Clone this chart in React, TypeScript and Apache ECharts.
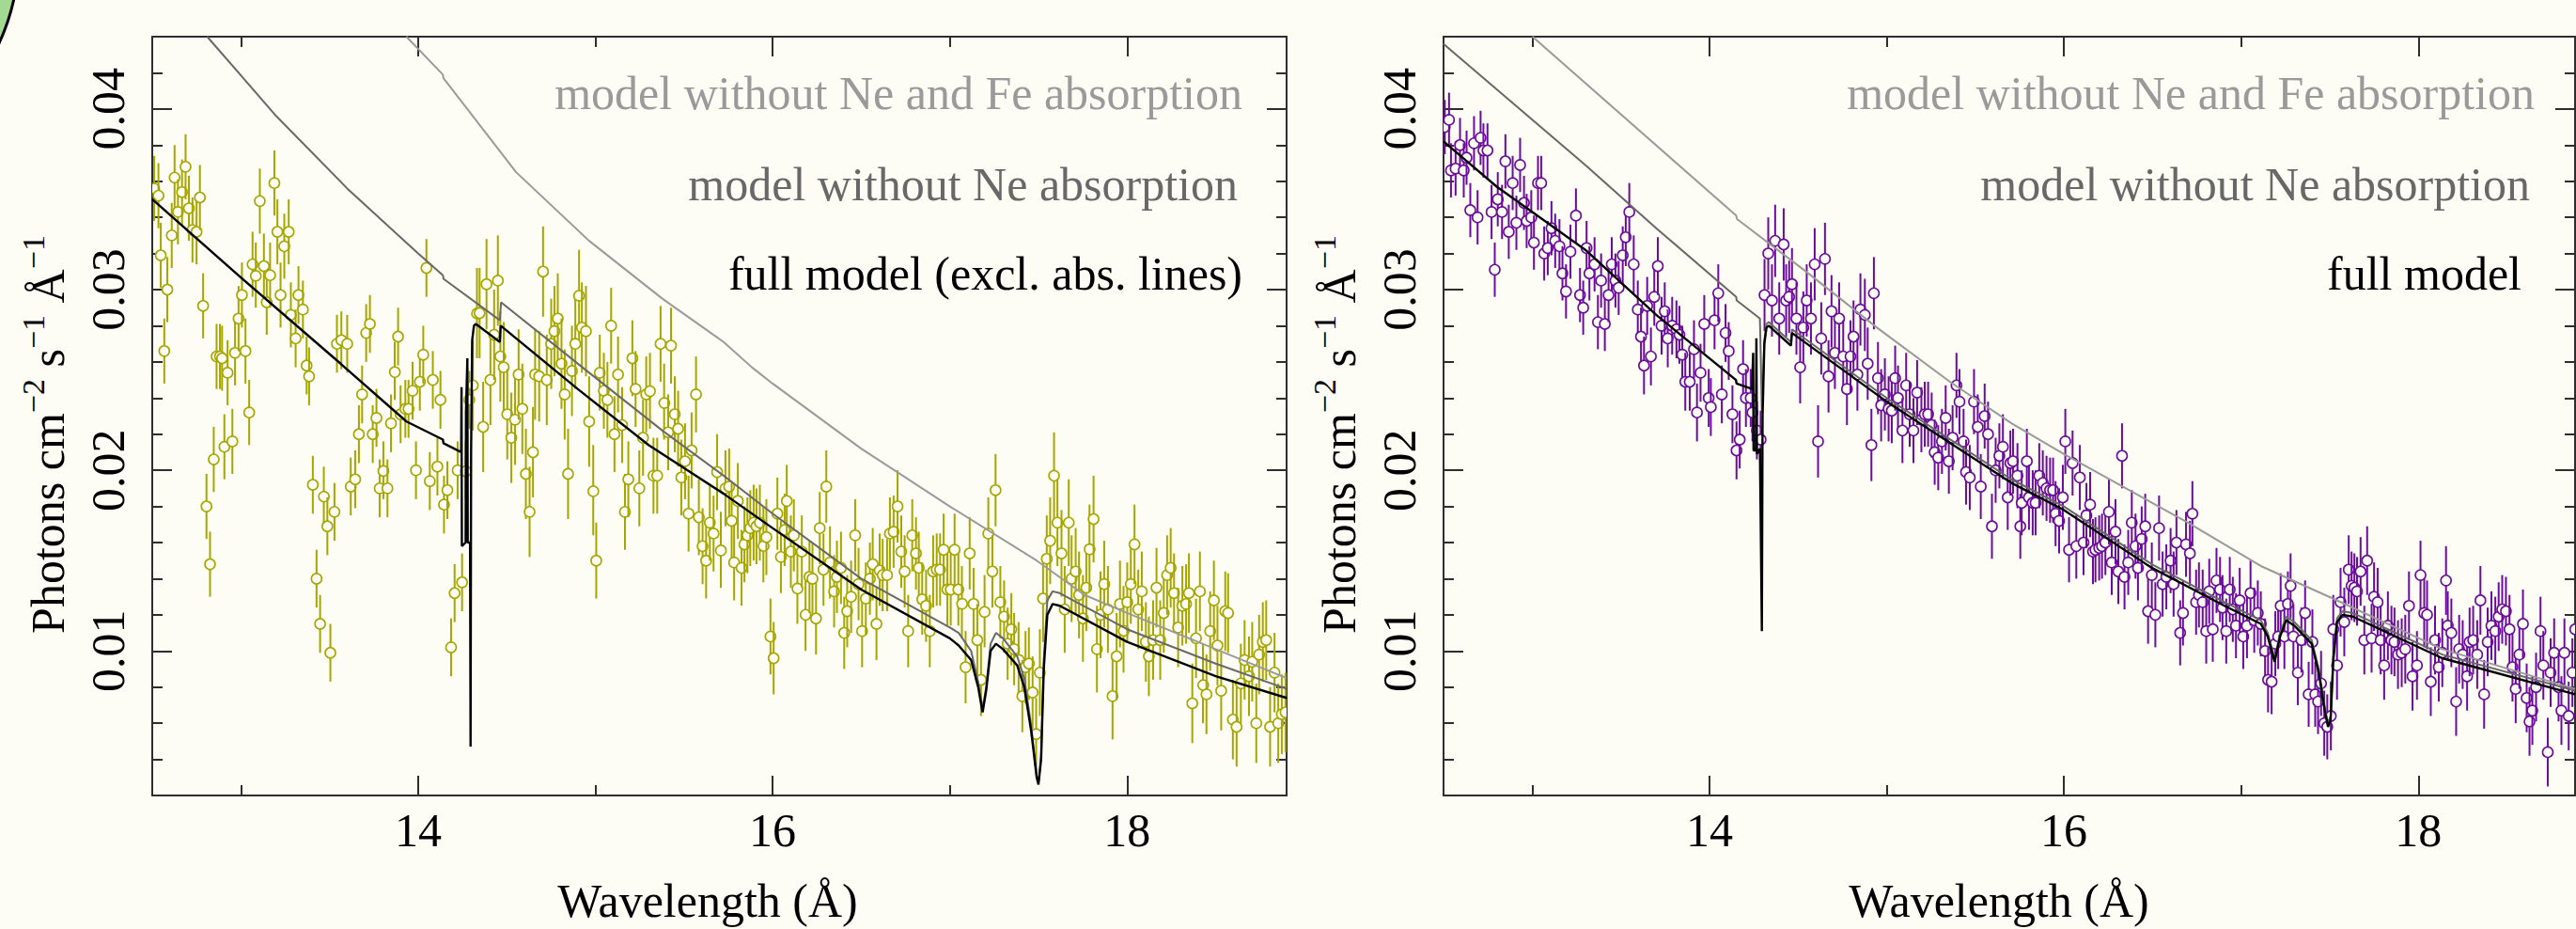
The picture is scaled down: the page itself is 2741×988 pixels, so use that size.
import React, { useEffect, useRef } from "react";
import * as echarts from "echarts";

// ---------------- data ----------------
const xMajorTicks = [14, 16, 18];
const xMinorTicks = [13, 15, 17];
const yMajorTicks = [0.01, 0.02, 0.03, 0.04];
const yMinorTicks = [0.004, 0.006, 0.008, 0.012, 0.014, 0.016, 0.018, 0.022, 0.024, 0.026, 0.028, 0.032, 0.034, 0.036, 0.038, 0.042];

const legendLeft = ["model without Ne and Fe absorption", "model without Ne absorption", "full model (excl. abs. lines)"];
const legendRight = ["model without Ne and Fe absorption", "model without Ne absorption", "full model"];

// left panel spectrum (wavelength, flux)
const leftSpectrum: [number, number][] = [
  [12.511,0.0356],[12.535,0.0352],[12.548,0.0319],[12.568,0.0266],[12.585,0.0300],[12.610,0.0330],[12.626,0.0362],[12.645,0.0343],
  [12.668,0.0354],[12.688,0.0368],[12.707,0.0345],[12.727,0.0333],[12.750,0.0332],[12.769,0.0351],[12.787,0.0291],[12.806,0.0180],
  [12.826,0.0148],[12.847,0.0206],[12.863,0.0263],[12.882,0.0263],[12.894,0.0262],[12.907,0.0213],[12.925,0.0254],[12.952,0.0216],
  [12.967,0.0265],[12.987,0.0284],[13.006,0.0297],[13.026,0.0266],[13.047,0.0232],[13.066,0.0314],[13.084,0.0308],[13.107,0.0349],
  [13.130,0.0313],[13.146,0.0293],[13.165,0.0308],[13.189,0.0359],[13.206,0.0332],[13.224,0.0297],[13.245,0.0324],[13.270,0.0332],
  [13.282,0.0286],[13.309,0.0273],[13.325,0.0297],[13.350,0.0289],[13.371,0.0258],[13.385,0.0252],[13.406,0.0192],[13.427,0.0140],
  [13.447,0.0115],[13.468,0.0186],[13.488,0.0169],[13.505,0.0099],[13.528,0.0177],[13.542,0.0270],[13.567,0.0272],[13.600,0.0270],
  [13.620,0.0191],[13.645,0.0195],[13.666,0.0220],[13.684,0.0242],[13.707,0.0276],[13.728,0.0281],[13.744,0.0220],[13.765,0.0229],
  [13.783,0.0190],[13.804,0.0200],[13.827,0.0190],[13.847,0.0226],[13.868,0.0255],[13.887,0.0274],[13.901,0.0231],[13.928,0.0234],
  [13.946,0.0234],[13.969,0.0244],[13.988,0.0200],[14.010,0.0249],[14.029,0.0264],[14.047,0.0312],[14.066,0.0194],[14.083,0.0250],
  [14.109,0.0202],[14.126,0.0239],[14.146,0.0181],[14.165,0.0189],[14.186,0.0102],[14.206,0.0132],[14.223,0.0200],[14.248,0.0138],
  [14.268,0.0200],[14.289,0.0239],[14.309,0.0247],[14.332,0.0287],[14.347,0.0287],[14.367,0.0224],[14.386,0.0303],[14.408,0.0250],
  [14.429,0.0275],[14.450,0.0305],[14.464,0.0263],[14.483,0.0257],[14.503,0.0231],[14.526,0.0218],[14.547,0.0228],[14.567,0.0253],
  [14.588,0.0234],[14.608,0.0198],[14.629,0.0177],[14.648,0.0210],[14.660,0.0253],[14.683,0.0252],[14.705,0.0310],[14.726,0.0250],
  [14.751,0.0270],[14.769,0.0277],[14.788,0.0284],[14.809,0.0259],[14.827,0.0242],[14.846,0.0198],[14.868,0.0255],[14.887,0.0270],
  [14.908,0.0297],[14.924,0.0279],[14.947,0.0277],[14.965,0.0227],[14.988,0.0189],[15.005,0.0150],[15.025,0.0254],[15.048,0.0244],
  [15.068,0.0239],[15.089,0.0280],[15.108,0.0220],[15.128,0.0253],[15.151,0.0225],[15.167,0.0177],[15.186,0.0195],[15.209,0.0262],
  [15.227,0.0245],[15.248,0.0190],[15.269,0.0218],[15.287,0.0242],[15.308,0.0244],[15.328,0.0197],[15.349,0.0197],[15.368,0.0270],
  [15.388,0.0238],[15.411,0.0221],[15.427,0.0269],[15.448,0.0231],[15.467,0.0223],[15.485,0.0196],[15.506,0.0205],[15.526,0.0176],
  [15.543,0.0211],[15.568,0.0242],[15.584,0.0174],[15.605,0.0158],[15.625,0.0150],[15.646,0.0171],[15.667,0.0165],[15.687,0.0199],
  [15.708,0.0156],[15.734,0.0190],[15.755,0.0191],[15.769,0.0172],[15.783,0.0149],[15.804,0.0183],[15.825,0.0146],[15.841,0.0159],
  [15.858,0.0164],[15.874,0.0168],[15.893,0.0171],[15.909,0.0169],[15.928,0.0171],[15.948,0.0159],[15.965,0.0163],[15.988,0.0108],
  [16.006,0.0096],[16.027,0.0176],[16.047,0.0152],[16.068,0.0167],[16.080,0.0183],[16.103,0.0155],[16.120,0.0164],[16.140,0.0135],
  [16.165,0.0155],[16.186,0.0120],[16.208,0.0141],[16.225,0.0140],[16.245,0.0118],[16.266,0.0168],[16.287,0.0145],[16.303,0.0191],
  [16.324,0.0149],[16.347,0.0133],[16.363,0.0141],[16.386,0.0146],[16.404,0.0110],[16.421,0.0122],[16.443,0.0130],[16.466,0.0164],
  [16.485,0.0137],[16.505,0.0111],[16.526,0.0129],[16.549,0.0140],[16.565,0.0148],[16.586,0.0115],[16.604,0.0145],[16.621,0.0142],
  [16.646,0.0142],[16.662,0.0165],[16.683,0.0166],[16.705,0.0180],[16.726,0.0155],[16.745,0.0144],[16.765,0.0111],[16.788,0.0164],
  [16.809,0.0154],[16.825,0.0146],[16.844,0.0129],[16.866,0.0125],[16.887,0.0111],[16.906,0.0144],[16.926,0.0145],[16.945,0.0145],
  [16.965,0.0156],[16.986,0.0134],[17.005,0.0134],[17.027,0.0156],[17.048,0.0134],[17.068,0.0127],[17.089,0.0091],[17.112,0.0154],
  [17.134,0.0126],[17.155,0.0106],[17.176,0.0084],[17.196,0.0122],[17.217,0.0165],[17.240,0.0144],[17.258,0.0189],[17.285,0.0127],
  [17.306,0.0119],[17.326,0.0104],[17.347,0.0112],[17.363,0.0101],[17.388,0.0096],[17.409,0.0075],[17.427,0.0091],[17.446,0.0093],
  [17.467,0.0077],[17.487,0.0054],[17.508,0.0088],[17.526,0.0129],[17.547,0.0151],[17.566,0.0161],[17.588,0.0197],[17.607,0.0171],
  [17.630,0.0154],[17.648,0.0123],[17.671,0.0171],[17.687,0.0140],[17.710,0.0144],[17.729,0.0131],[17.751,0.0118],[17.770,0.0135],
  [17.788,0.0157],[17.811,0.0173],[17.830,0.0101],[17.850,0.0120],[17.871,0.0137],[17.892,0.0123],[17.918,0.0075],[17.941,0.0097],
  [17.960,0.0126],[17.980,0.0112],[18.001,0.0127],[18.021,0.0137],[18.042,0.0159],[18.063,0.0123],[18.083,0.0133],[18.106,0.0105],
  [18.123,0.0097],[18.147,0.0106],[18.166,0.0135],[18.187,0.0106],[18.207,0.0121],[18.226,0.0142],[18.246,0.0146],[18.265,0.0132],
  [18.288,0.0113],[18.312,0.0125],[18.333,0.0126],[18.349,0.0132],[18.368,0.0071],[18.389,0.0107],[18.411,0.0133],[18.428,0.0082],
  [18.448,0.0076],[18.469,0.0111],[18.490,0.0128],[18.510,0.0103],[18.531,0.0078],[18.554,0.0122],[18.570,0.0121],[18.597,0.0062],
  [18.618,0.0058],[18.642,0.0082],[18.663,0.0095],[18.688,0.0086],[18.706,0.0094],[18.729,0.0060],[18.745,0.0098],[18.766,0.0105],
  [18.785,0.0106],[18.807,0.0058],[18.832,0.0088],[18.853,0.0060],[18.873,0.0065],[18.894,0.0066],
];

// right panel spectrum (wavelength, flux)
const rightSpectrum: [number, number][] = [
  [12.507,0.0390],[12.531,0.0394],[12.542,0.0366],[12.568,0.0367],[12.593,0.0380],[12.614,0.0366],[12.630,0.0373],[12.651,0.0344],
  [12.672,0.0381],[12.692,0.0340],[12.709,0.0384],[12.725,0.0377],[12.748,0.0377],[12.771,0.0343],[12.789,0.0311],[12.806,0.0350],
  [12.830,0.0343],[12.849,0.0371],[12.868,0.0332],[12.890,0.0359],[12.911,0.0337],[12.932,0.0369],[12.954,0.0348],[12.969,0.0338],
  [12.995,0.0340],[13.010,0.0326],[13.033,0.0359],[13.051,0.0359],[13.068,0.0320],[13.088,0.0323],[13.109,0.0334],[13.130,0.0327],
  [13.154,0.0324],[13.171,0.0309],[13.191,0.0299],[13.216,0.0321],[13.247,0.0341],[13.270,0.0297],[13.288,0.0290],[13.307,0.0323],
  [13.323,0.0309],[13.352,0.0314],[13.371,0.0282],[13.389,0.0305],[13.410,0.0281],[13.431,0.0297],[13.449,0.0314],[13.470,0.0305],
  [13.488,0.0301],[13.511,0.0319],[13.528,0.0329],[13.548,0.0343],[13.573,0.0314],[13.596,0.0289],[13.614,0.0274],[13.631,0.0258],
  [13.649,0.0291],[13.670,0.0263],[13.689,0.0296],[13.709,0.0313],[13.730,0.0280],[13.748,0.0288],[13.765,0.0273],[13.790,0.0280],
  [13.814,0.0278],[13.831,0.0275],[13.847,0.0264],[13.864,0.0249],[13.889,0.0249],[13.913,0.0267],[13.930,0.0232],[13.950,0.0254],
  [13.971,0.0281],[13.996,0.0240],[14.008,0.0235],[14.029,0.0283],[14.050,0.0298],[14.070,0.0242],[14.091,0.0276],[14.109,0.0266],
  [14.130,0.0231],[14.153,0.0211],[14.171,0.0217],[14.190,0.0256],[14.206,0.0240],[14.233,0.0240],[14.243,0.0232],[14.268,0.0222],
  [14.289,0.0217],[14.311,0.0297],[14.332,0.0320],[14.353,0.0294],[14.371,0.0327],[14.394,0.0284],[14.419,0.0325],[14.433,0.0294],
  [14.450,0.0296],[14.466,0.0303],[14.491,0.0284],[14.512,0.0257],[14.530,0.0279],[14.549,0.0294],[14.573,0.0284],[14.594,0.0314],
  [14.613,0.0216],[14.631,0.0273],[14.652,0.0317],[14.672,0.0252],[14.689,0.0288],[14.708,0.0265],[14.732,0.0284],[14.755,0.0263],
  [14.776,0.0245],[14.796,0.0263],[14.813,0.0274],[14.835,0.0253],[14.852,0.0289],[14.877,0.0286],[14.893,0.0259],[14.914,0.0214],
  [14.928,0.0298],[14.951,0.0251],[14.969,0.0236],[14.990,0.0242],[15.011,0.0234],[15.029,0.0233],[15.048,0.0251],[15.064,0.0240],
  [15.089,0.0222],[15.110,0.0247],[15.130,0.0231],[15.151,0.0222],[15.172,0.0243],[15.196,0.0228],[15.215,0.0231],[15.234,0.0231],
  [15.254,0.0225],[15.271,0.0210],[15.291,0.0207],[15.312,0.0216],[15.333,0.0229],[15.351,0.0205],[15.372,0.0218],[15.394,0.0247],
  [15.411,0.0238],[15.434,0.0216],[15.448,0.0199],[15.469,0.0196],[15.493,0.0238],[15.514,0.0224],[15.531,0.0191],[15.553,0.0230],
  [15.572,0.0220],[15.594,0.0169],[15.615,0.0200],[15.636,0.0208],[15.656,0.0213],[15.683,0.0185],[15.698,0.0204],[15.713,0.0205],
  [15.738,0.0197],[15.754,0.0169],[15.762,0.0182],[15.791,0.0205],[15.803,0.0185],[15.824,0.0182],[15.840,0.0182],[15.861,0.0197],
  [15.881,0.0193],[15.902,0.0190],[15.922,0.0189],[15.939,0.0189],[15.953,0.0176],[15.973,0.0172],[15.994,0.0185],[16.008,0.0216],
  [16.029,0.0156],[16.049,0.0204],[16.070,0.0158],[16.090,0.0196],[16.111,0.0160],[16.127,0.0175],[16.148,0.0181],[16.164,0.0155],
  [16.178,0.0156],[16.199,0.0157],[16.215,0.0158],[16.234,0.0160],[16.254,0.0177],[16.270,0.0149],[16.291,0.0166],[16.307,0.0144],
  [16.328,0.0208],[16.342,0.0141],[16.363,0.0149],[16.383,0.0171],[16.404,0.0158],[16.418,0.0146],[16.439,0.0162],[16.459,0.0169],
  [16.475,0.0122],[16.496,0.0142],[16.516,0.0120],[16.537,0.0168],[16.557,0.0137],[16.578,0.0141],[16.602,0.0150],[16.619,0.0137],
  [16.635,0.0160],[16.656,0.0110],[16.672,0.0121],[16.689,0.0159],[16.711,0.0154],[16.725,0.0176],[16.746,0.0127],[16.762,0.0131],
  [16.783,0.0127],[16.803,0.0111],[16.820,0.0133],[16.840,0.0112],[16.861,0.0139],[16.881,0.0134],[16.895,0.0124],[16.916,0.0111],
  [16.936,0.0134],[16.953,0.0123],[16.971,0.0114],[16.992,0.0128],[17.012,0.0108],[17.033,0.0114],[17.053,0.0132],[17.074,0.0117],
  [17.094,0.0121],[17.111,0.0115],[17.135,0.0100],[17.152,0.0084],[17.172,0.0083],[17.193,0.0104],[17.209,0.0108],[17.223,0.0125],
  [17.244,0.0108],[17.264,0.0126],[17.279,0.0136],[17.295,0.0108],[17.320,0.0088],[17.340,0.0106],[17.361,0.0121],[17.381,0.0076],
  [17.402,0.0105],[17.418,0.0076],[17.434,0.0072],[17.451,0.0082],[17.469,0.0060],[17.486,0.0058],[17.506,0.0064],[17.520,0.0112],
  [17.541,0.0092],[17.561,0.0127],[17.582,0.0116],[17.607,0.0145],[17.623,0.0136],[17.639,0.0135],[17.654,0.0133],[17.674,0.0144],
  [17.695,0.0106],[17.711,0.0150],[17.736,0.0107],[17.750,0.0130],[17.770,0.0127],[17.787,0.0106],[17.807,0.0092],[17.828,0.0114],
  [17.848,0.0106],[17.865,0.0105],[17.885,0.0098],[17.906,0.0099],[17.926,0.0101],[17.947,0.0125],[17.967,0.0086],[17.992,0.0092],
  [18.012,0.0142],[18.033,0.0121],[18.049,0.0120],[18.070,0.0083],[18.094,0.0106],[18.115,0.0091],[18.135,0.0099],[18.156,0.0139],
  [18.166,0.0114],[18.186,0.0110],[18.213,0.0072],[18.230,0.0101],[18.250,0.0098],[18.275,0.0086],[18.289,0.0105],[18.309,0.0106],
  [18.332,0.0098],[18.350,0.0128],[18.371,0.0076],[18.391,0.0105],[18.412,0.0114],[18.434,0.0111],[18.453,0.0119],[18.473,0.0123],
  [18.494,0.0122],[18.514,0.0112],[18.531,0.0091],[18.549,0.0079],[18.570,0.0098],[18.590,0.0115],[18.611,0.0074],[18.627,0.0061],
  [18.643,0.0067],[18.664,0.0080],[18.689,0.0111],[18.705,0.0092],[18.730,0.0044],[18.746,0.0088],[18.766,0.0099],[18.791,0.0080],
  [18.807,0.0067],[18.824,0.0099],[18.848,0.0064],[18.869,0.0088],[18.885,0.0112],
];

// 1-sigma error half-lengths, per wavelength band [band start, error]
const leftErrBands: [number, number][] = [[12.5, 0.0018], [13.3, 0.0016], [14.3, 0.0025], [15.0, 0.0021], [16.0, 0.0020], [17.5, 0.0024], [18.0, 0.0022]];
const rightErrBands: [number, number][] = [[12.5, 0.0015], [13.5, 0.0016], [14.3, 0.0020], [15.0, 0.0018], [16.0, 0.0018], [17.5, 0.0019]];

// models, left panel
const leftNoNeFe: [number, number][] = [
  [13.934,0.0440],[14.14,0.0419],[14.143,0.0417],[14.553,0.0365],[14.965,0.0327],[15.378,0.0295],[15.724,0.0271],[15.883,0.0257],
  [16.0,0.0248],[16.5,0.0212],[17.0,0.0180],[17.49,0.0150],[17.76,0.0131],[18.0,0.0121],[18.5,0.0101],[18.9,0.0085],
];
const leftNoNe: [number, number][] = [
  [12.81,0.0440],[13.2,0.0396],[13.6,0.0356],[14.0,0.0320],[14.14,0.0308],[14.143,0.0306],[14.461,0.0283],[14.468,0.0293],
  [14.965,0.0254],[15.378,0.0222],[15.724,0.0197],[16.0,0.0176],[16.5,0.0140],[17.0,0.0113],[17.05,0.0110],[17.12,0.0100],
  [17.16,0.0083],[17.185,0.0068],[17.205,0.0080],[17.23,0.0104],[17.26,0.0110],[17.3,0.0107],[17.38,0.0097],[17.42,0.0085],
  [17.46,0.0058],[17.49,0.0031],[17.50,0.0027],[17.515,0.0042],[17.53,0.0095],[17.55,0.0128],[17.58,0.0133],[17.62,0.0132],
  [18.0,0.0112],[18.5,0.0093],[18.9,0.0079],
];
const leftFull: [number, number][] = [
  [12.5,0.0350],[12.985,0.0308],[13.563,0.0259],[13.934,0.0227],[14.14,0.0217],[14.143,0.0215],[14.243,0.0210],[14.245,0.0246],
  [14.247,0.0158],[14.268,0.0160],[14.270,0.0232],[14.278,0.0262],[14.280,0.0160],[14.293,0.0160],[14.296,0.0047],[14.299,0.0210],
  [14.305,0.0272],[14.315,0.0280],[14.325,0.0281],[14.461,0.0271],[14.466,0.0280],[14.9,0.0245],[15.3,0.0214],[15.724,0.0187],
  [16.0,0.0168],[16.5,0.0134],[17.0,0.0107],[17.05,0.0103],[17.12,0.0095],[17.16,0.0080],[17.185,0.0066],[17.205,0.0078],
  [17.23,0.0100],[17.26,0.0104],[17.3,0.0101],[17.38,0.0092],[17.42,0.0080],[17.46,0.0055],[17.49,0.0030],[17.50,0.0026],
  [17.515,0.0040],[17.53,0.0090],[17.55,0.0120],[17.58,0.0126],[17.62,0.0125],[18.0,0.0105],[18.5,0.0086],[18.9,0.0074],
];

// models, right panel
const rightNoNeFe: [number, number][] = [
  [13.002,0.0440],[14.151,0.0341],[14.156,0.0339],[14.532,0.0311],[14.945,0.0279],[15.357,0.0249],[15.704,0.0226],[16.0,0.0209],
  [16.70,0.0171],[17.111,0.0147],[17.541,0.0128],[18.135,0.0101],[18.884,0.0079],
];
const rightNoNe: [number, number][] = [
  [12.5,0.0436],[13.3,0.0369],[13.7,0.0334],[14.151,0.0296],[14.154,0.0294],[14.285,0.0284],[14.29,0.0262],[14.296,0.0232],
  [14.31,0.0272],[14.322,0.0281],[14.335,0.0282],[14.46,0.0271],[14.466,0.0278],[15.0,0.0240],[15.704,0.0195],[16.0,0.0180],
  [16.496,0.0148],[16.906,0.0127],[17.111,0.0117],[17.15,0.0110],[17.189,0.0096],[17.22,0.0110],[17.254,0.0119],[17.30,0.0116],
  [17.398,0.0106],[17.438,0.0090],[17.47,0.0070],[17.490,0.0060],[17.505,0.0064],[17.52,0.0097],[17.541,0.0118],[17.572,0.0122],
  [17.63,0.0121],[18.135,0.0098],[18.884,0.0078],
];
const rightFull: [number, number][] = [
  [12.5,0.0382],[12.8,0.0357],[13.3,0.0322],[13.7,0.0286],[14.15,0.0250],[14.153,0.0248],[14.24,0.0245],[14.247,0.0265],
  [14.249,0.0211],[14.262,0.0211],[14.265,0.0273],[14.268,0.0209],[14.285,0.0212],[14.296,0.0111],[14.300,0.0230],[14.31,0.0270],
  [14.322,0.0279],[14.335,0.0280],[14.46,0.0269],[14.466,0.0276],[15.0,0.0238],[15.704,0.0193],[16.0,0.0178],[16.496,0.0146],
  [16.906,0.0125],[17.111,0.0115],[17.15,0.0108],[17.189,0.0094],[17.22,0.0108],[17.254,0.0117],[17.30,0.0114],[17.398,0.0104],
  [17.438,0.0088],[17.47,0.0068],[17.490,0.0058],[17.505,0.0062],[17.52,0.0095],[17.541,0.0116],[17.572,0.0120],[17.63,0.0119],
  [18.135,0.0096],[18.884,0.0076],
];

// ---------------- styling ----------------
const BG = "#fdfdf5";
const AX = "#2e2e2e";
const FONT = "Liberation Serif";
const YELLOW = "#a6a600";
const PURPLE = "#6c0c9c";
const LIGHT = "#9a9a9a";
const DARK = "#686868";
const GREEN = "#a3da92";

const X_MIN = 12.5;
const Y_MIN = 0.002;
const Y_MAX = 0.044;

function errAt(x: number, bands: [number, number][]): number {
  let e = bands[0][1];
  for (const [start, v] of bands) if (x >= start) e = v;
  return e;
}

function makeXAxes(grid: number, xmax: number) {
  const base = {
    gridIndex: grid, type: "value", min: X_MIN, max: xmax, splitLine: { show: false },
  };
  const line = { show: true, onZero: false, lineStyle: { color: AX, width: 2 } };
  return [
    { ...base, position: "bottom", axisLine: line,
      axisTick: { show: true, inside: true, length: 21, customValues: xMajorTicks, lineStyle: { color: AX, width: 2 } },
      axisLabel: { show: true, customValues: xMajorTicks, margin: 12, fontSize: 50, fontFamily: FONT, color: "#000",
        formatter: (v: number) => String(v) } },
    { ...base, position: "bottom", axisLine: { show: false },
      axisTick: { show: true, inside: true, length: 11, customValues: xMinorTicks, lineStyle: { color: AX, width: 2 } },
      axisLabel: { show: false } },
    { ...base, position: "top", axisLine: line,
      axisTick: { show: true, inside: true, length: 21, customValues: xMajorTicks, lineStyle: { color: AX, width: 2 } },
      axisLabel: { show: false } },
    { ...base, position: "top", axisLine: { show: false },
      axisTick: { show: true, inside: true, length: 11, customValues: xMinorTicks, lineStyle: { color: AX, width: 2 } },
      axisLabel: { show: false } },
  ];
}

function makeYAxes(grid: number) {
  const base = {
    gridIndex: grid, type: "value", min: Y_MIN, max: Y_MAX, splitLine: { show: false },
  };
  const line = { show: true, onZero: false, lineStyle: { color: AX, width: 2 } };
  return [
    { ...base, position: "left", axisLine: line,
      axisTick: { show: true, inside: true, length: 21, customValues: yMajorTicks, lineStyle: { color: AX, width: 2 } },
      axisLabel: { show: true, customValues: yMajorTicks, rotate: 90, margin: 22, fontSize: 50, fontFamily: FONT, color: "#000",
        formatter: (v: number) => v.toFixed(2) } },
    { ...base, position: "left", axisLine: { show: false },
      axisTick: { show: true, inside: true, length: 11, customValues: yMinorTicks, lineStyle: { color: AX, width: 2 } },
      axisLabel: { show: false } },
    { ...base, position: "right", axisLine: line,
      axisTick: { show: true, inside: true, length: 21, customValues: yMajorTicks, lineStyle: { color: AX, width: 2 } },
      axisLabel: { show: false } },
    { ...base, position: "right", axisLine: { show: false },
      axisTick: { show: true, inside: true, length: 11, customValues: yMinorTicks, lineStyle: { color: AX, width: 2 } },
      axisLabel: { show: false } },
  ];
}

function errSeries(axisIndex: number, data: [number, number][], bands: [number, number][], color: string) {
  return {
    type: "custom",
    xAxisIndex: axisIndex,
    yAxisIndex: axisIndex,
    clip: true,
    z: 2,
    data: data.map(([x, y]) => [x, y, errAt(x, bands)]),
    renderItem: (_p: any, api: any) => {
      const x = api.value(0), y = api.value(1), e = api.value(2);
      const c = api.coord([x, y]);
      const t = api.coord([x, y + e]);
      const b = api.coord([x, y - e]);
      return {
        type: "group",
        children: [
          { type: "line", shape: { x1: c[0], y1: t[1], x2: c[0], y2: b[1] }, style: { stroke: color, lineWidth: 2 } },
          { type: "circle", shape: { cx: c[0], cy: c[1], r: 5.5 }, style: { fill: BG, stroke: color, lineWidth: 1.6 } },
        ],
      };
    },
  };
}

function modelSeries(axisIndex: number, data: [number, number][], color: string, width: number, z: number) {
  return {
    type: "line", xAxisIndex: axisIndex, yAxisIndex: axisIndex, data, showSymbol: false, symbol: "none",
    clip: true, z, lineStyle: { color, width }, silent: true,
  };
}

function legendTexts(lines: string[], rights: number[]) {
  const colors = [LIGHT, DARK, "#000"];
  const ys = [99, 196, 291];
  return lines.map((t, i) => ({
    type: "text", x: rights[i], y: ys[i], z: 10,
    style: { text: t, fill: colors[i], fontSize: 50, fontFamily: FONT, align: "right", verticalAlign: "middle" },
  }));
}

function yTitle(x: number) {
  return {
    type: "text", x, y: 462, rotation: Math.PI / 2, z: 10,
    style: {
      text: "{a|Photons cm}{s|\u22122}{a| s}{s|\u22121}{a| \u00c5}{s|\u22121}",
      align: "center", verticalAlign: "middle",
      rich: {
        a: { fontSize: 50, fontFamily: FONT, fill: "#000", lineHeight: 58, verticalAlign: "bottom" },
        s: { fontSize: 34, fontFamily: FONT, fill: "#000", lineHeight: 34, verticalAlign: "top" },
      },
    },
  };
}

function xTitle(x: number) {
  return {
    type: "text", x, y: 958, z: 10,
    style: { text: "Wavelength (\u00c5)", fill: "#000", fontSize: 50, fontFamily: FONT, align: "center", verticalAlign: "middle" },
  };
}

const option: any = {
  animation: false,
  backgroundColor: BG,
  textStyle: { fontFamily: FONT },
  grid: [
    { left: 162, top: 39, width: 1207, height: 807 },
    { left: 1536, top: 39, width: 1204, height: 807 },
  ],
  xAxis: [...makeXAxes(0, 18.9), ...makeXAxes(1, 18.884)],
  yAxis: [...makeYAxes(0), ...makeYAxes(1)],
  series: [
    errSeries(0, leftSpectrum, leftErrBands, YELLOW),
    modelSeries(0, leftNoNeFe, LIGHT, 2, 3),
    modelSeries(0, leftNoNe, DARK, 2, 4),
    modelSeries(0, leftFull, "#000", 2.4, 5),
    errSeries(4, rightSpectrum, rightErrBands, PURPLE),
    modelSeries(4, rightNoNeFe, LIGHT, 2, 3),
    modelSeries(4, rightNoNe, DARK, 2, 4),
    modelSeries(4, rightFull, "#000", 2.4, 5),
  ],
  graphic: [
    // decorative green disc cut by the top-left corner of the picture
    { type: "circle", shape: { cx: -210, cy: -50, r: 230 }, z: 1,
      style: { fill: GREEN, stroke: "#000", lineWidth: 3 } },
    ...legendTexts(legendLeft, [1322, 1317, 1322]),
    ...legendTexts(legendRight, [2697, 2692, 2683]),
    yTitle(47),
    yTitle(1421),
    xTitle(753),
    xTitle(2127),
  ],
};

export default function App() {
  const ref = useRef<HTMLDivElement>(null);
  useEffect(() => {
    const chart = echarts.init(ref.current!, null, { renderer: "svg" });
    chart.setOption(option);
    return () => chart.dispose();
  }, []);
  return (
    <div
      ref={ref}
      style={{ position: "fixed", left: 0, top: 0, width: 2741, height: 988, background: BG }}
    />
  );
}
